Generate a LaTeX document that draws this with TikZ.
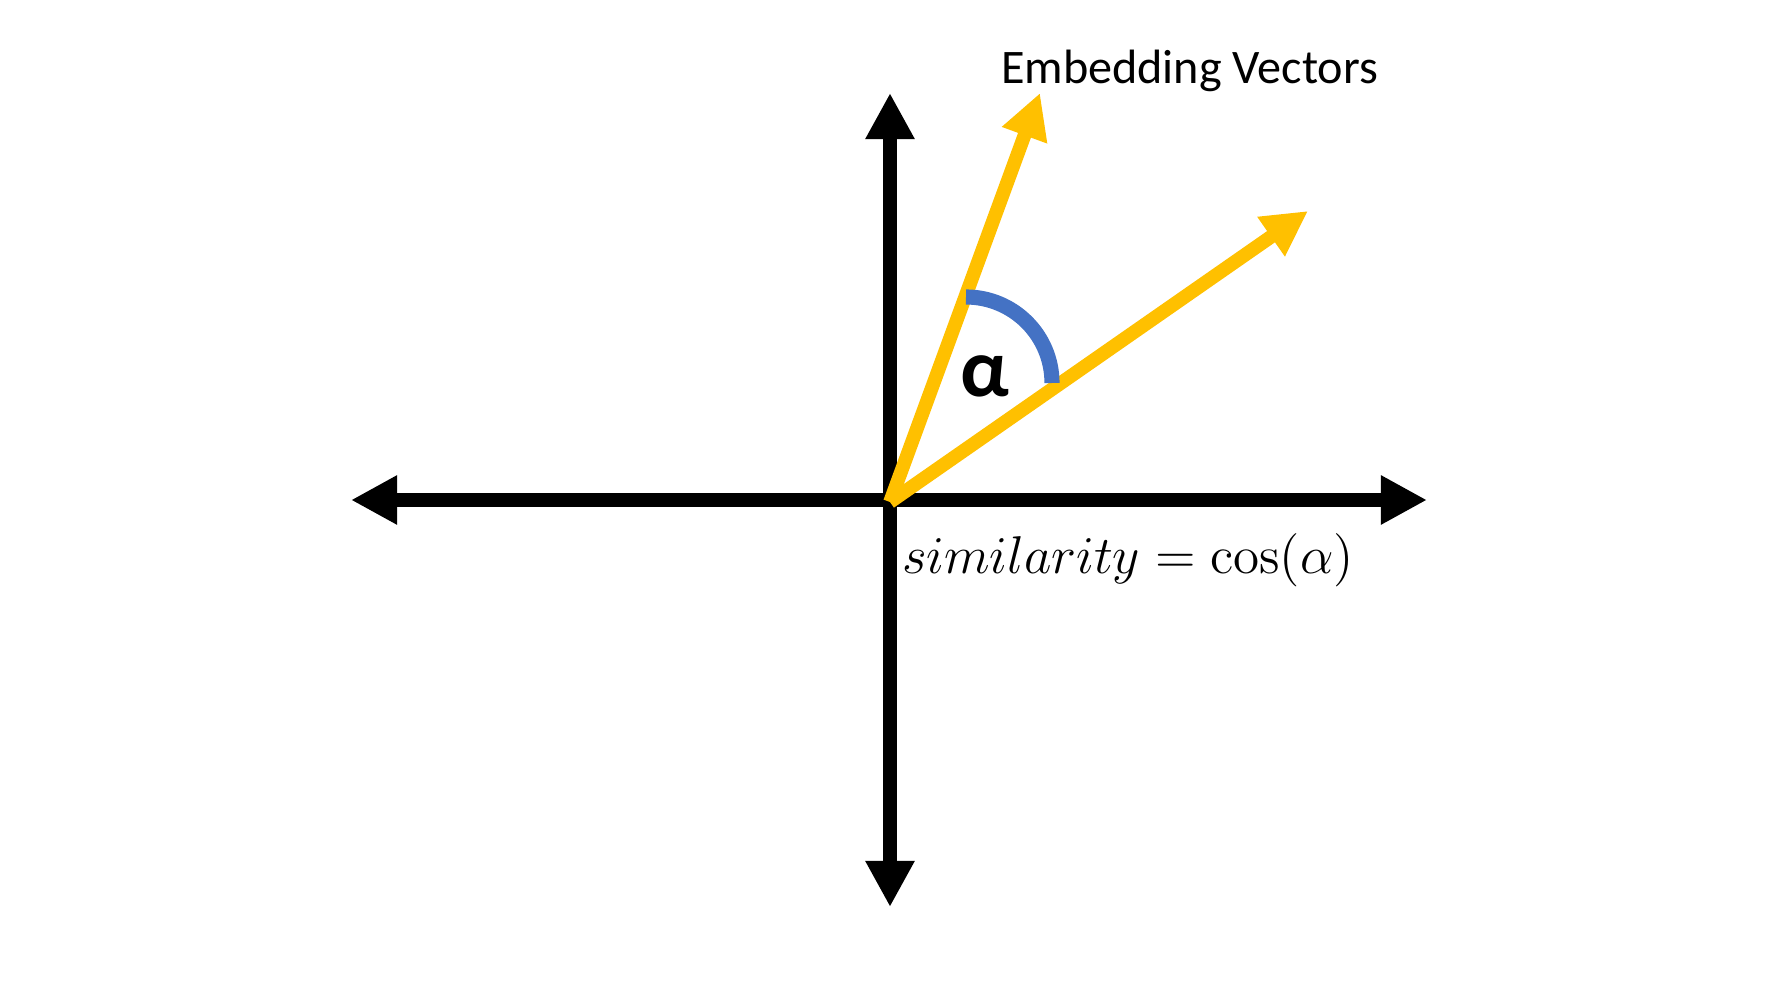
\documentclass[tikz,border=0pt]{standalone}
\usepackage[no-math]{fontspec}
\setmainfont{Carlito}
\usetikzlibrary{arrows.meta}
\definecolor{vecyellow}{HTML}{FFC000}
\definecolor{arcblue}{HTML}{4472C4}
\begin{document}
\begin{tikzpicture}[x=0.01cm,y=0.01cm,
  axisline/.style={line width=4.1pt, draw=black, {Triangle[length=13.1pt,width=13.1pt]}-{Triangle[length=13.1pt,width=13.1pt]}},
  vecline/.style={line width=3.9pt, draw=vecyellow, -{Triangle[length=12.8pt,width=12.8pt]}},
  anglearc/.style={line width=4.3pt, draw=arcblue, line cap=butt},
  lbl/.style={inner sep=0pt, outer sep=0pt}]
\useasboundingbox (0,0) rectangle (1778,1000);
\fill[white] (0,0) rectangle (1778,1000);
% axes
\coordinate (xl) at (351,500);
\coordinate (xr) at (1427,500);
\coordinate (yt) at (890,907);
\coordinate (yb) at (890,93);
\coordinate (O) at (890,498);
\coordinate (v1) at (1040,907);
\coordinate (v2) at (1308,789);
\coordinate (arcs) at (966,703);
\draw[axisline] (xl) -- (xr);
\draw[axisline] (yb) -- (yt);
% vectors
\draw[vecline] (O) -- (v1);
\draw[vecline] (O) -- (v2);
% angle arc
\draw[anglearc] (arcs) arc[start angle=90, end angle=0, radius=86];
% labels
\node[lbl] (alpha) at (985,624) {\fontsize{23.5}{27}\selectfont\bfseries α};
\node[lbl, anchor=base west] (emb) at (1001,916) {\fontsize{13.7}{16}\selectfont Embedding Vectors};
\node[lbl, anchor=base west, scale=1.05, transform shape] (sim) at (902,426) {\fontsize{14.4}{17}\selectfont $similarity=\cos(\alpha)$};
\end{tikzpicture}
\end{document}
